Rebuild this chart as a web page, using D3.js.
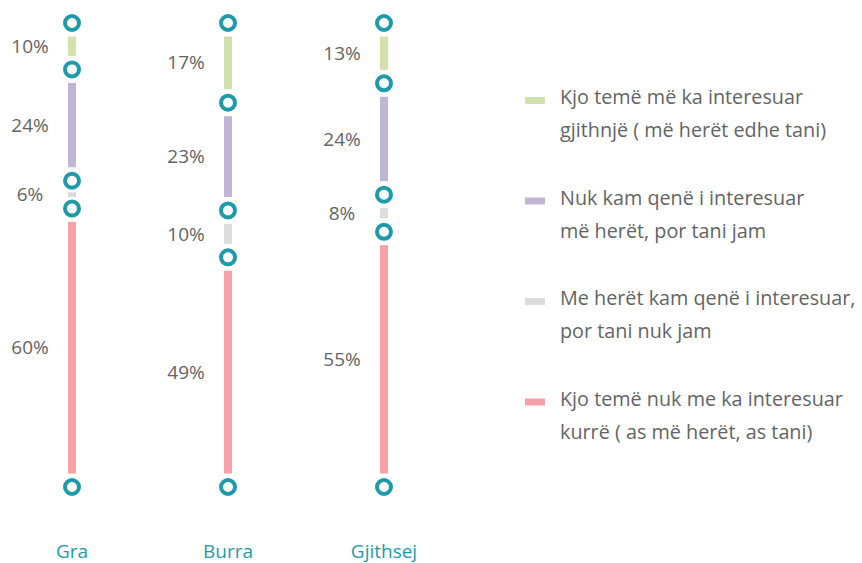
<!DOCTYPE html>
<html>
<head>
<meta charset="utf-8">
<script src="https://cdn.jsdelivr.net/npm/d3@7"></script>
<style>
  body { margin: 0; background: #fff; }
  svg text { font-family: "Open Sans", "Noto Sans", sans-serif; }
</style>
</head>
<body>
<svg id="chart" width="862" height="563"></svg>
<script>
// columns
var categories = ["Gra", "Burra", "Gjithsej"];

// shares per column, top to bottom
var alwaysInterested = [10, 17, 13];
var nowInterested = [24, 23, 24];
var noLonger = [6, 10, 8];
var neverInterested = [60, 49, 55];

var seriesNames = [
    ["Kjo temë më ka interesuar", "gjithnjë ( më herët edhe tani)"],
    ["Nuk kam qenë i interesuar", "më herët, por tani jam"],
    ["Me herët kam qenë i interesuar,", "por tani nuk jam"],
    ["Kjo temë nuk me ka interesuar", "kurrë ( as më herët, as tani)"]
];
var series = [alwaysInterested, nowInterested, noLonger, neverInterested];
var colors = ["#d0e1ac", "#c2b4d6", "#dcdcdc", "#f6a0a8"];

var teal = "#1f9aab";
var grey = "#636466";

var svg = d3.select("#chart");

var x = d3.scalePoint()
    .domain(categories)
    .range([72, 384]);

var y = d3.scaleLinear()
    .domain([0, 1])
    .range([23, 487]);

var gap = 13.5;

categories.forEach(function(cat, ci) {
    var total = d3.sum(series, function(s) { return s[ci]; });
    var cum = 0;
    var bounds = [0];
    series.forEach(function(s) {
        cum += s[ci];
        bounds.push(cum / total);
    });

    var col = svg.append("g");
    var cx = x(cat);

    series.forEach(function(s, si) {
        var y0 = y(bounds[si]), y1 = y(bounds[si + 1]);
        var a = y0 + gap, b = y1 - gap;
        if (b - a < 5) {
            var m = (y0 + y1) / 2;
            a = m - 2.5; b = m + 2.5;
        }
        col.append("line")
            .attr("x1", cx).attr("x2", cx)
            .attr("y1", a).attr("y2", b)
            .attr("stroke", colors[si])
            .attr("stroke-width", 8);

        col.append("text")
            .attr("x", cx - 42)
            .attr("y", (y0 + y1) / 2)
            .attr("dy", "0.35em")
            .attr("text-anchor", "middle")
            .attr("font-size", 19)
            .attr("fill", grey)
            .text(s[ci] + "%");
    });

    col.selectAll("circle")
        .data(bounds)
        .enter().append("circle")
        .attr("cx", cx)
        .attr("cy", function(d) { return y(d); })
        .attr("r", 7)
        .attr("fill", "#fff")
        .attr("stroke", teal)
        .attr("stroke-width", 4);

    col.append("text")
        .attr("x", cx)
        .attr("y", 558)
        .attr("text-anchor", "middle")
        .attr("font-size", 19)
        .attr("fill", teal)
        .text(cat);
});

// legend
var legend = svg.append("g");
seriesNames.forEach(function(lines, i) {
    var by = 104 + i * 100.5;
    legend.append("rect")
        .attr("x", 525)
        .attr("y", by - 7)
        .attr("width", 20)
        .attr("height", 7)
        .attr("fill", colors[i]);
    var t = legend.append("text")
        .attr("x", 560)
        .attr("y", by)
        .attr("font-size", 19.8)
        .attr("fill", grey);
    lines.forEach(function(l, li) {
        t.append("tspan")
            .attr("x", 560)
            .attr("dy", li === 0 ? 0 : 33)
            .text(l);
    });
});
</script>
</body>
</html>
